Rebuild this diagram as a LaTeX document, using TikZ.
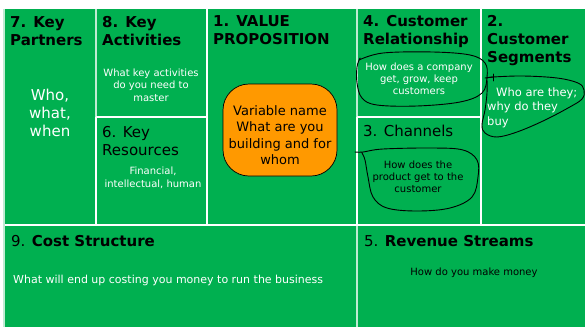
\documentclass[tikz,border=0pt]{standalone}
\usepackage{fontspec}
\setmainfont{DejaVu Sans}
\definecolor{cgreen}{HTML}{00B050}
\definecolor{corange}{HTML}{FF9900}
\tikzset{
  gridline/.style={white, line width=1.6pt},
  softline/.style={white!75!cgreen, line width=1.2pt},
  title/.style={anchor=base west, inner sep=0pt, align=left, text=black,
    font=\fontsize{15}{18}\selectfont\bfseries},
  rtitle/.style={anchor=base west, inner sep=0pt, align=left, text=black,
    font=\fontsize{15}{18}\selectfont},
  smalltxt/.style={anchor=base, inner sep=0pt, align=center,
    font=\fontsize{10}{12.5}\selectfont},
  loop/.style={black, line width=0.9pt, line join=round, line cap=round},
}
\begin{document}
\begin{tikzpicture}[x=1pt,y=-1pt]
\useasboundingbox (0,0) rectangle (585,327);
\fill[white] (0,0) rectangle (585,327);
\fill[cgreen] (4,9) rectangle (585,327);

% grid lines
\draw[softline] (96,9) -- (96,117);
\draw[gridline] (96,117) -- (96,225);
\draw[gridline] (96,117) -- (207,117);
\draw[gridline] (207,9) -- (207,225);
\draw[gridline] (357,117) -- (357,225);
\draw[softline] (357,9) -- (357,117);
\draw[softline] (357,225) -- (357,327);
\draw[gridline] (357,117) -- (481,117);
\draw[gridline] (481,9) -- (481,225);
\draw[gridline] (4,225) -- (585,225);
\draw[softline] (4,9) -- (4,327);

% titles (base anchor = last line baseline)
\node[title] (kp) at (10,45) {7. Key\\Partners};
\node[title] (ka) at (102,45) {8. Key\\Activities};
\node[title] (vpt) at (213,44) {1. VALUE\\PROPOSITION};
\node[title] (cr) at (363,44) {4. Customer\\Relationship};
\node[title] (cs) at (487,62) {2.\\Customer\\Segments};
\node[rtitle] (kr) at (102,155) {6. Key\\Resources};
\node[rtitle] (ch) at (363,136) {3. Channels};
\node[rtitle] (cost) at (11,246) {9. \textbf{Cost Structure}};
\node[rtitle] (rev) at (364,246) {5. \textbf{Revenue Streams}};

% body texts
\node[anchor=base, inner sep=0pt, align=center, text=white,
  font=\fontsize{15}{18}\selectfont] (who) at (50,136) {Who,\\what,\\when};
\node[smalltxt, text=white] (kat) at (151,101) {What key activities\\do you need to\\master};
\node[smalltxt, text=white, font=\fontsize{10}{13}\selectfont] (krt) at (153,187) {Financial,\\intellectual, human};
\node[draw=black, line width=0.7pt, fill=corange, rounded corners=26pt,
  minimum width=114pt, minimum height=92pt, inner sep=0pt] (blob) at (280,130) {};
\node[anchor=base, inner sep=0pt, align=center, text=black,
  font=\fontsize{13}{16.5}\selectfont] (blobt) at (280,164.5) {Variable name\\What are you\\building and for\\whom};
\node[smalltxt, text=white, font=\fontsize{10}{12}\selectfont] (crt) at (419,94) {How does a company\\get, grow, keep\\customers};
\node[anchor=base west, inner sep=0pt, align=left, text=white,
  font=\fontsize{11.5}{14.5}\selectfont] (cst) at (487,125) {\hspace{9pt}Who are they;\\why do they\\buy};
\node[smalltxt, text=black, font=\fontsize{10}{12}\selectfont] (cht) at (418,192) {How does the\\product get to the\\customer};
\node[anchor=base west, inner sep=0pt, text=white,
  font=\fontsize{11}{13}\selectfont] (costt) at (13,283) {What will end up costing you money to run the business};
\node[smalltxt, text=black] (revt) at (474,275) {How do you make money};

% hand drawn loops
\draw[loop] plot[smooth, tension=0.6] coordinates {(359,60) (383,53) (433,52) (470,55) (485,63) (487,77) (482,93) (460,102) (417,106) (377,105) (362,98) (357,83) (357,67) (360,58)};
\draw[loop] (485,78) -- (493,77);
\draw[loop] (493,74) -- (493,81);
\draw[loop] plot[smooth, tension=0.6] coordinates {(487,78) (493,77) (523,76) (557,78) (578,83) (584,90) (582,99) (568,108) (543,121) (517,132) (497,137) (485,133) (482,125) (485,110) (487,93) (487,80)};
\draw[loop] plot[smooth, tension=0.6] coordinates {(355,152) (363,152) (383,149) (433,148) (463,150) (477,160) (478,177) (472,197) (450,208) (417,211) (387,208) (373,197) (368,177) (365,160) (362,153)};
\end{tikzpicture}
\end{document}
